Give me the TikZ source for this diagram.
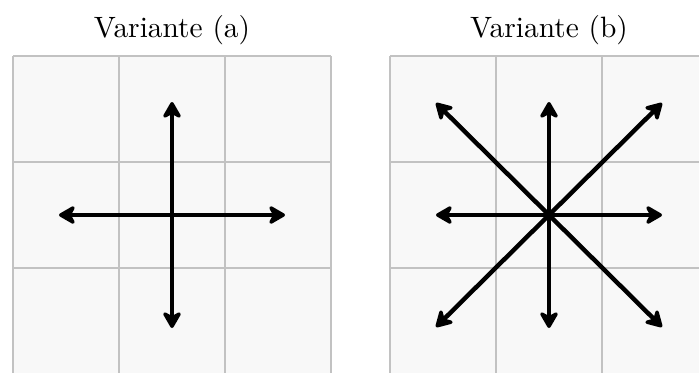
\documentclass[tikz,border=0pt]{standalone}
\usepackage{tikz}
\usetikzlibrary{arrows.meta,positioning,calc}
\definecolor{cellfill}{HTML}{F8F8F8}
\definecolor{gridgray}{HTML}{C2C2C2}

\begin{document}
\begin{tikzpicture}[x=0.35pt,y=-0.35pt,
  gridline/.style={draw=gridgray,line width=0.85pt},
  dirarrow/.style={-{Stealth[round,length=7pt,width=8pt,inset=2.2pt]},line width=1.55pt,line cap=round}]
  \useasboundingbox (0,0) rectangle (699,372);
  \clip (0,0) rectangle (699,372);

  % two 3x3 boards
  \foreach \off in {0,377} {
    \fill[cellfill] (13+\off,56) rectangle (331+\off,400);
    \foreach \x in {13,119,225,331}
      \draw[gridline] (\x+\off,56) -- (\x+\off,400);
    \foreach \y in {56,162,268}
      \draw[gridline] (13+\off,\y) -- (331+\off,\y);
  }

  \node[scale=1.03] (titleA) at (172,30) {Variante (a)};
  \node[scale=1.03] (titleB) at (549,30) {Variante (b)};

  \coordinate (cA) at (172,215);
  \coordinate (cB) at (549,215);

  % variant (a): four directions
  \foreach \dx/\dy [count=\i] in {113/0,0/113,-113/0,0/-113} {
    \coordinate (a\i) at ($(cA)+(\dx,\dy)$);
    \draw[dirarrow] (cA) -- (a\i);
  }

  % variant (b): eight directions
  \foreach \dx/\dy [count=\i] in {113/0,0/113,-113/0,0/-113,113/112,-113/112,-113/-112,113/-112} {
    \coordinate (b\i) at ($(cB)+(\dx,\dy)$);
    \draw[dirarrow] (cB) -- (b\i);
  }
\end{tikzpicture}
\end{document}
